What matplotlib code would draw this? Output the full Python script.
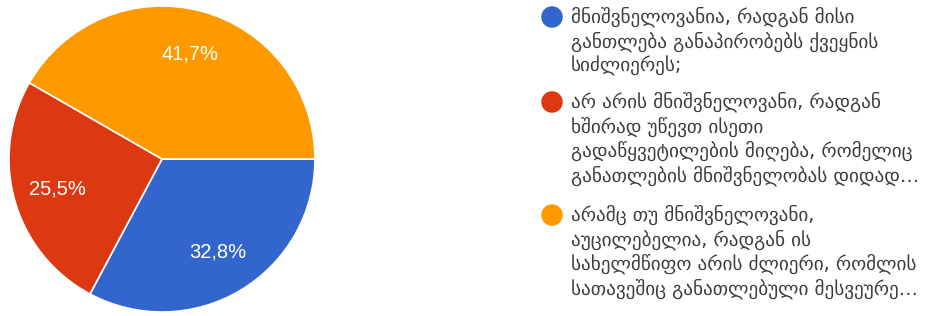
import matplotlib.pyplot as plt

values = [32.8, 25.5, 41.7]
pct_labels = ["32,8%", "25,5%", "41,7%"]
colors = ["#3366cc", "#dc3912", "#ff9900"]
legend_lines = [
    ["მნიშვნელოვანია, რადგან მისი",
     "განთლება განაპირობებს ქვეყნის",
     "სიძლიერეს;"],
    ["არ არის მნიშვნელოვანი, რადგან",
     "ხშირად უწევთ ისეთი",
     "გადაწყვეტილების მიღება, რომელიც",
     "განათლების მნიშვნელობას დიდად…"],
    ["არამც თუ მნიშვნელოვანი,",
     "აუცილებელია, რადგან ის",
     "სახელმწიფო არის ძლიერი, რომლის",
     "სათავეშიც განათლებული მესვეურე…"],
]

W, H = 934, 316
fig = plt.figure(figsize=(W / 100, H / 100), dpi=100)

# pie
ax = fig.add_axes([9 / W, 4 / H, 306 / W, 306 / H])
wedges, _, autotexts = ax.pie(
    values, colors=colors, startangle=0, counterclock=False,
    autopct="%1.1f%%", pctdistance=0.71,
    wedgeprops=dict(edgecolor="white", linewidth=1.2),
)
for t, lab in zip(autotexts, pct_labels):
    t.set_text(lab)
    t.set_color("white")
    t.set_fontsize(14.5)
    t.set_family(["Liberation Sans", "DejaVu Sans"])
ax.set_xlim(-1, 1)
ax.set_ylim(-1, 1)
ax.set_aspect("equal")

# legend, drawn in pixel coords
lg = fig.add_axes([0, 0, 1, 1])
lg.set_xlim(0, W)
lg.set_ylim(H, 0)
lg.axis("off")
item_y = [17, 102, 215]
line_h = 24.5
for y0, lines, c in zip(item_y, legend_lines, colors):
    lg.scatter([552], [y0], s=240, color=c, edgecolors="none")
    for i, line in enumerate(lines):
        lg.text(571, y0 + i * line_h, line, va="center", ha="left",
                fontsize=13.8, color="#3c3c3c", family="DejaVu Sans")

fig.savefig("out.png", dpi=100)
